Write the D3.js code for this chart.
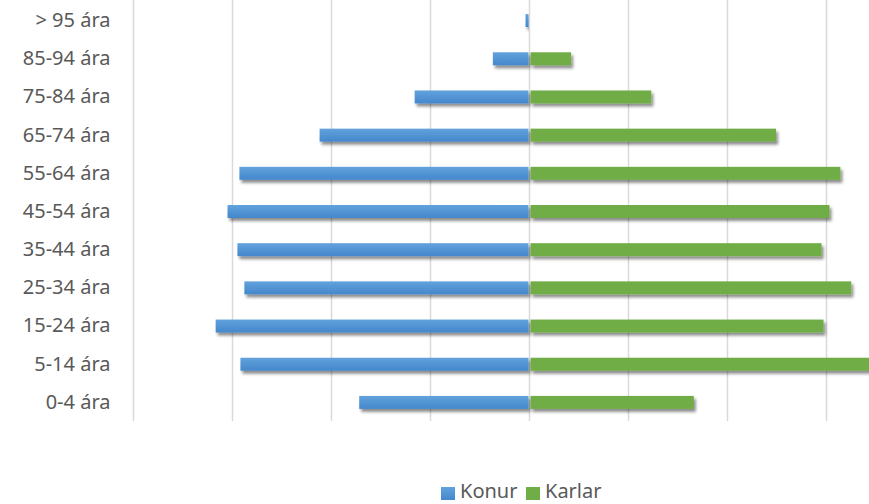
<!DOCTYPE html>
<html>
<head>
<meta charset="utf-8">
<script src="https://cdn.jsdelivr.net/npm/d3@7"></script>
<style>
  body { margin: 0; background: #fff; overflow: hidden; }
  svg { display: block; font-family: "Noto Sans", "Open Sans", sans-serif; }
</style>
</head>
<body>
<svg id="chart"></svg>
<script>
// age groups, top to bottom
const ageGroups = ['> 95 ára', '85-94 ára', '75-84 ára', '65-74 ára', '55-64 ára', '45-54 ára',
  '35-44 ára', '25-34 ára', '15-24 ára', '5-14 ára', '0-4 ára'];
const konur = [3, 36, 115, 211, 292, 304, 294, 287, 316, 291, 171];
const karlar = [0, 41, 122, 248, 313, 302, 294, 324, 296, 355, 165];
const gridTicks = [-400, -300, -200, -100, 0, 100, 200, 300, 400];
const seriesNames = ['Konur', 'Karlar'];

const width = 869, height = 504;
const svg = d3.select('#chart').attr('width', width).attr('height', height);

const x = d3.scaleLinear().domain([-400, 400]).range([133.5, 925.5]);
const y = d3.scaleBand().domain(ageGroups).range([1.5, 421.5]).paddingInner(0.66).paddingOuter(0.33);

// shadow + gradient like the spreadsheet original
const defs = svg.append('defs');
const shadow = defs.append('filter').attr('id', 'shadow')
  .attr('x', '-5%').attr('y', '-50%').attr('width', '115%').attr('height', '250%');
shadow.append('feDropShadow').attr('dx', 2).attr('dy', 3).attr('stdDeviation', 1.6)
  .attr('flood-color', '#000').attr('flood-opacity', 0.45);

const blueGrad = defs.append('linearGradient').attr('id', 'blueGrad')
  .attr('x1', 0).attr('y1', 0).attr('x2', 0).attr('y2', 1);
blueGrad.append('stop').attr('offset', '0%').attr('stop-color', '#62a2dd');
blueGrad.append('stop').attr('offset', '100%').attr('stop-color', '#4487cb');

// grid
svg.append('g')
  .selectAll('line')
  .data(gridTicks)
  .join('line')
  .attr('x1', d => x(d)).attr('x2', d => x(d))
  .attr('y1', 0).attr('y2', 421)
  .attr('stroke', '#d9d9d9')
  .attr('stroke-width', 1.5);

// bars
const bars = svg.append('g');
bars.selectAll('.konur')
  .data(ageGroups)
  .join('rect')
  .attr('class', 'konur')
  .attr('x', (d, i) => x(-konur[i]) - 1)
  .attr('y', d => y(d))
  .attr('width', (d, i) => x(0) - x(-konur[i]))
  .attr('height', y.bandwidth())
  .attr('fill', 'url(#blueGrad)')
  .attr('filter', 'url(#shadow)');

bars.selectAll('.karlar')
  .data(ageGroups.filter((d, i) => karlar[i] > 0))
  .join('rect')
  .attr('class', 'karlar')
  .attr('x', x(0) + 1)
  .attr('y', d => y(d))
  .attr('width', d => x(karlar[ageGroups.indexOf(d)]) - x(0))
  .attr('height', y.bandwidth())
  .attr('fill', '#70ad47')
  .attr('filter', 'url(#shadow)');

// category labels
const yAxis = svg.append('g')
  .attr('transform', 'translate(110.5,0)')
  .call(d3.axisLeft(y).tickSize(0).tickPadding(0));
yAxis.select('.domain').remove();
yAxis.selectAll('text')
  .attr('font-size', 20)
  .attr('font-family', '"Noto Sans", "Open Sans", sans-serif')
  .attr('fill', '#595959');

// legend
const legend = svg.append('g').attr('transform', 'translate(441,491)');
const colors = ['url(#blueGrad)', '#70ad47'];
const offsets = [0, 85];
seriesNames.forEach((name, i) => {
  const item = legend.append('g').attr('transform', `translate(${offsets[i]},0)`);
  item.append('rect').attr('x', 0).attr('y', -4).attr('width', 14).attr('height', 13).attr('fill', colors[i]);
  item.append('text').attr('x', 19).attr('y', 7)
    .attr('font-size', 20).attr('fill', '#595959').text(name);
});
</script>
</body>
</html>
